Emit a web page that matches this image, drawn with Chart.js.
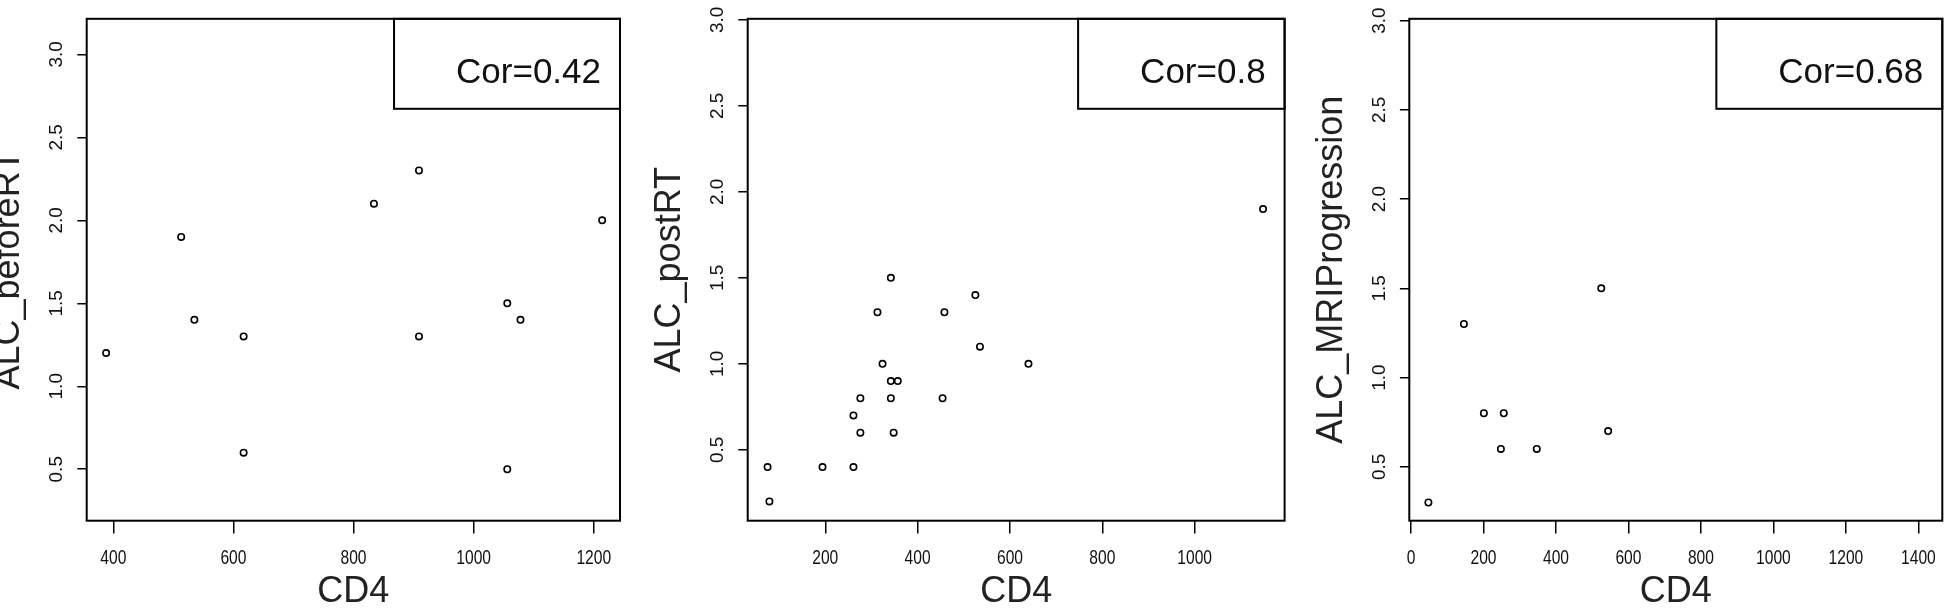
<!DOCTYPE html>
<html>
<head>
<meta charset="utf-8">
<script src="https://cdn.jsdelivr.net/npm/chart.js@4.4.1/dist/chart.umd.min.js"></script>
<style>
  html, body { margin: 0; padding: 0; background: #fff; overflow: hidden; }
  body { width: 1946px; height: 610px; position: relative; }
  canvas { position: absolute; top: 0; }
</style>
</head>
<body>
<canvas id="p1"></canvas>
<canvas id="p2"></canvas>
<canvas id="p3"></canvas>
<script>
// ---- data ----
const cd4Before = [388, 513, 535, 617, 617, 834, 909, 909, 1056, 1078, 1056, 1214];
const alcBefore = [1.2, 1.9, 1.4, 1.3, 0.6, 2.1, 2.3, 1.3, 1.5, 1.4, 0.5, 2.0];

const cd4Post = [75, 79, 194, 261, 261, 276, 276, 313, 324, 342, 342, 357, 342, 348, 454, 458, 525, 535, 640, 1148];
const alcPost = [0.4, 0.2, 0.4, 0.4, 0.7, 0.6, 0.8, 1.3, 1.0, 1.5, 0.9, 0.9, 0.8, 0.6, 0.8, 1.3, 1.4, 1.1, 1.0, 1.9];

const cd4Mri = [48, 146, 201, 256, 248, 347, 525, 544];
const alcMri = [0.3, 1.3, 0.8, 0.8, 0.6, 0.6, 1.5, 0.7];

const yTitles = ["ALC_beforeRT", "ALC_postRT", "ALC_MRIProgression"];
const corLabels = ["Cor=0.42", "Cor=0.8", "Cor=0.68"];
const xTitle = "CD4";

const yTickValues = [0.5, 1.0, 1.5, 2.0, 2.5, 3.0];
const xTicksBefore = [400, 600, 800, 1000, 1200];
const xTicksPost = [200, 400, 600, 800, 1000];
const xTicksMri = [0, 200, 400, 600, 800, 1000, 1200, 1400];

// ---- layout (page pixels) ----
const H = 610;
const boxTop = 11.7, boxBottom = 520.7;
const panels = [
  { id: "p1", x: cd4Before, y: alcBefore, xTicks: xTicksBefore, left: 86.7, right: 620,
    xmin: 355.7, xmax: 1243.7, ymin: 0.19, ymax: 3.214 },
  { id: "p2", x: cd4Post, y: alcPost, xTicks: xTicksPost, left: 747.7, right: 1284.6,
    xmin: 32, xmax: 1194.7, ymin: 0.088, ymax: 3.006 },
  { id: "p3", x: cd4Mri, y: alcMri, xTicks: xTicksMri, left: 1409.3, right: 1942.3,
    xmin: -4.7, xmax: 1466, ymin: 0.198, ymax: 3.01 }
];

const framePlugin = {
  id: "frame",
  afterDraw(chart, args, opts) {
    const ctx = chart.ctx, a = chart.chartArea;
    ctx.save();
    ctx.strokeStyle = "#000";
    ctx.lineWidth = 2;
    ctx.strokeRect(a.left, a.top, a.right - a.left, a.bottom - a.top);
    ctx.font = '35px "Liberation Sans", Arial, sans-serif';
    const w = ctx.measureText(opts.text).width;
    const bw = w + 81, bh = 90;
    ctx.strokeRect(a.right - bw, a.top, bw, bh);
    ctx.fillStyle = "#111";
    ctx.textAlign = "right";
    ctx.textBaseline = "alphabetic";
    ctx.fillText(opts.text, a.right - 19, a.top + 64);
    ctx.restore();
  }
};

/* tick labels of the x axis are narrow in the original */
function narrowLabels(scale){

  scale.drawLabels = function(){

    const ctx = this.ctx;

    this.getLabelItems().forEach(item => {

      const [tx, ty] = item.options.translation;

      ctx.save();
      ctx.translate(tx, ty);
      ctx.scale(0.78, 1);
      ctx.font = item.font.string;
      ctx.fillStyle = item.options.color;
      ctx.textAlign = "center";
      ctx.textBaseline = item.options.textBaseline;
      ctx.fillText(item.label, 0, item.textOffset);
      ctx.restore();

    });

  };

}

function makePanel(p, i){

  const canvasLeft = Math.floor(p.left - 120);
  const canvasWidth = Math.ceil(p.right + 40 - canvasLeft);
  const yWidth = p.left - canvasLeft;
  const padRight = canvasLeft + canvasWidth - p.right;

  const canvas = document.getElementById(p.id);
  canvas.width = canvasWidth;
  canvas.height = H;
  canvas.style.left = canvasLeft + "px";
  canvas.style.width = canvasWidth + "px";
  canvas.style.height = H + "px";

  const points = p.x.map((v, k) => ({ x: v, y: p.y[k] }));

  new Chart(canvas.getContext("2d"), {
    type: "scatter",
    data: {
      datasets: [{
        data: points,
        pointStyle: "circle",
        pointRadius: 3.2,
        pointHoverRadius: 3.2,
        borderWidth: 1.6,
        borderColor: "#000",
        backgroundColor: "rgba(0,0,0,0)"
      }]
    },
    options: {
      responsive: false,
      animation: false,
      devicePixelRatio: 1,
      layout: { padding: { left: 0, top: boxTop, right: padRight, bottom: 0 } },
      plugins: {
        legend: { display: false },
        tooltip: { enabled: false },
        frame: { text: corLabels[i] }
      },
      scales: {
        x: {
          type: "linear",
          position: "bottom",
          min: p.xmin,
          max: p.xmax,
          afterBuildTicks: s => {
            s.ticks = p.xTicks.map(v => ({ value: v }));
            narrowLabels(s);
          },
          afterFit: s => { s.height = H - boxBottom; },
          border: { display: false },
          grid: { drawOnChartArea: false, drawTicks: true, tickLength: 12.7, color: "#000", lineWidth: 1.5 },
          ticks: {
            autoSkip: false, minRotation: 0, maxRotation: 0, padding: 13,
            color: "#111",
            font: { family: '"Liberation Sans", Arial, sans-serif', size: 20 },
            callback: v => String(v)
          },
          title: {
            display: true, text: xTitle, color: "#222",
            font: { family: '"Liberation Sans", Arial, sans-serif', size: 36, lineHeight: 1 },
            padding: { top: 0, bottom: 0 }
          }
        },
        y: {
          type: "linear",
          position: "left",
          min: p.ymin,
          max: p.ymax,
          afterBuildTicks: s => { s.ticks = yTickValues.map(v => ({ value: v })); },
          afterFit: s => { s.width = yWidth; },
          border: { display: false },
          grid: { drawOnChartArea: false, drawTicks: true, tickLength: 9.4, color: "#000", lineWidth: 1.5 },
          ticks: {
            autoSkip: false, minRotation: 90, maxRotation: 90, padding: 7.4,
            crossAlign: "center",
            color: "#111",
            font: { family: '"Liberation Sans", Arial, sans-serif', size: 19 },
            callback: v => Number(v).toFixed(1)
          },
          title: {
            display: true, text: yTitles[i], color: "#222",
            font: { family: '"Liberation Sans", Arial, sans-serif', size: 36, lineHeight: 1 },
            padding: { top: 25.5, bottom: 0 }
          }
        }
      }
    },
    plugins: [framePlugin]
  });

}

panels.forEach(makePanel);
</script>
</body>
</html>
